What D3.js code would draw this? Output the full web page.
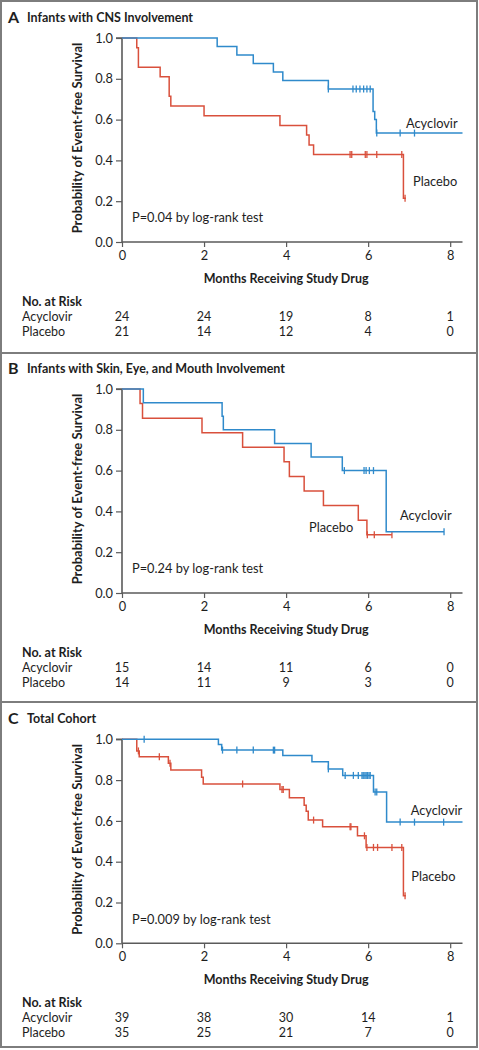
<!DOCTYPE html>
<html><head><meta charset="utf-8">
<script src="https://cdn.jsdelivr.net/npm/d3@7"></script>
<style>
html,body{margin:0;padding:0;background:#fff;}
svg{display:block;font-family:Lato,"Open Sans",sans-serif;}
</style></head>
<body>
<svg id="chart" width="479" height="1050"></svg>
<script>
// ---------- data ----------
const xTicks = [0, 2, 4, 6, 8];
const yTicks = [0, 0.2, 0.4, 0.6, 0.8, 1.0];
const groups = ["Acyclovir", "Placebo"];

const panelLetters = ["A", "B", "C"];
const panelTitles = ["Infants with CNS Involvement", "Infants with Skin, Eye, and Mouth Involvement", "Total Cohort"];
const pValueTexts = ["P=0.04 by log-rank test", "P=0.24 by log-rank test", "P=0.009 by log-rank test"];

// Panel A
const aAcycTimes = [2.32, 2.8, 3.2, 3.69, 3.92, 5.03, 6.12, 6.16, 6.2];
const aAcycSurv  = [0.958, 0.917, 0.875, 0.833, 0.792, 0.75, 0.64, 0.60, 0.534];
const aAcycEnd = 8.3;
const aAcycCensor = [5.03, 5.63, 5.71, 5.8, 5.89, 5.97, 6.05, 6.21, 6.78, 7.13];
const aPlacTimes = [0.36, 0.4, 0.93, 1.15, 1.19, 2.0, 3.85, 4.5, 4.56, 4.67, 6.86];
const aPlacSurv  = [0.952, 0.857, 0.81, 0.714, 0.667, 0.619, 0.571, 0.524, 0.476, 0.429, 0.214];
const aPlacEnd = 6.92;
const aPlacCensor = [5.56, 5.6, 5.93, 5.97, 6.21, 6.82, 6.9];
const aRiskAcyc = [24, 24, 19, 8, 1];
const aRiskPlac = [21, 14, 12, 4, 0];

// Panel B
const bAcycTimes = [0.52, 2.44, 2.47, 3.72, 4.61, 5.37, 6.44];
const bAcycSurv  = [0.933, 0.867, 0.8, 0.733, 0.667, 0.6, 0.3];
const bAcycEnd = 7.85;
const bAcycCensor = [5.42, 5.9, 5.95, 6.03, 6.13, 7.85];
const bPlacTimes = [0.44, 0.5, 1.95, 2.94, 3.95, 4.08, 4.44, 4.91, 5.76, 5.97];
const bPlacSurv  = [0.929, 0.857, 0.786, 0.714, 0.643, 0.571, 0.5, 0.429, 0.357, 0.286];
const bPlacEnd = 6.58;
const bPlacCensor = [5.98, 6.15, 6.58];
const bRiskAcyc = [15, 14, 11, 6, 0];
const bRiskPlac = [14, 11, 9, 3, 0];

// Panel C
const cAcycTimes = [2.35, 2.43, 3.92, 4.63, 5.03, 5.38, 6.13, 6.45];
const cAcycSurv  = [0.974, 0.947, 0.92, 0.89, 0.855, 0.823, 0.742, 0.594];
const cAcycEnd = 8.3;
const cAcycCensor = [0.54, 2.45, 2.8, 3.2, 3.69, 3.72, 5.03, 5.44, 5.64, 5.76, 5.85, 5.88, 5.92, 5.95, 5.98, 6.02, 6.05, 6.17, 6.21, 6.78, 7.13, 7.84];
const cPlacTimes = [0.36, 0.42, 1.13, 1.19, 1.94, 1.98, 3.85, 4.08, 4.44, 4.49, 4.54, 4.89, 5.74, 5.95, 6.86];
const cPlacSurv  = [0.943, 0.914, 0.882, 0.85, 0.814, 0.781, 0.754, 0.713, 0.677, 0.647, 0.604, 0.571, 0.527, 0.47, 0.233];
const cPlacEnd = 6.92;
const cPlacCensor = [0.4, 0.91, 1.17, 2.94, 3.9, 3.93, 4.67, 5.56, 5.58, 5.91, 5.97, 6.13, 6.23, 6.58, 6.82, 6.9];
const cRiskAcyc = [39, 38, 30, 14, 1];
const cRiskPlac = [35, 25, 21, 7, 0];

// ---------- layout / style ----------
const COL_ACYC = "#2f8acb";
const COL_PLAC = "#d9503c";
const AXIS_COL = "#5a5a5a";
const TEXT_COL = "#1e1e1e";

const panels = [
  {top: 38,    acyc: [aAcycTimes, aAcycSurv, aAcycEnd, aAcycCensor], plac: [aPlacTimes, aPlacSurv, aPlacEnd, aPlacCensor], risk: [aRiskAcyc, aRiskPlac],
   acycLbl: [406, 85], placLbl: [413, 143.7]},
  {top: 389,   acyc: [bAcycTimes, bAcycSurv, bAcycEnd, bAcycCensor], plac: [bPlacTimes, bPlacSurv, bPlacEnd, bPlacCensor], risk: [bRiskAcyc, bRiskPlac],
   acycLbl: [400, 126], placLbl: [309, 138.7]},
  {top: 739.3, acyc: [cAcycTimes, cAcycSurv, cAcycEnd, cAcycCensor], plac: [cPlacTimes, cPlacSurv, cPlacEnd, cPlacCensor], risk: [cRiskAcyc, cRiskPlac],
   acycLbl: [410.7, 70.7], placLbl: [411.3, 137.4]}
];

const svg = d3.select("#chart");

// frame
svg.append("rect").attr("x", 1).attr("y", 1).attr("width", 476).attr("height", 1046)
  .attr("fill", "none").attr("stroke", "#7d7d7d").attr("stroke-width", 2);
[353, 702].forEach(y => svg.append("line").attr("x1", 1).attr("x2", 477).attr("y1", y).attr("y2", y)
  .attr("stroke", "#7d7d7d").attr("stroke-width", 2));

const x = d3.scaleLinear().domain([0, 8.3]).range([122, 462.5]);
const PH = 204;

function survAt(times, surv, t) {
  let s = 1;
  for (let i = 0; i < times.length; i++) if (times[i] <= t + 1e-9) s = surv[i];
  return s;
}

panels.forEach((p, i) => {
  const top = p.top;
  const y = d3.scaleLinear().domain([0, 1]).range([top + PH, top]);
  const g = svg.append("g");

  // title
  g.append("text").attr("x", 8).attr("y", top - 21).attr("dy", "0.36em")
    .attr("font-size", 16).attr("font-weight", 700).attr("fill", TEXT_COL).text(panelLetters[i]);
  g.append("text").attr("x", 27).attr("y", top - 21).attr("dy", "0.36em")
    .attr("font-size", 12.5).attr("font-weight", 700).attr("fill", TEXT_COL).text(panelTitles[i]);

  // axes
  const yAxis = d3.axisLeft(y).tickValues(yTicks).tickFormat(d3.format(".1f")).tickSize(6).tickPadding(3);
  const ya = g.append("g").attr("transform", `translate(${x(0)},0)`).call(yAxis);
  const xAxis = d3.axisBottom(x).tickValues(xTicks).tickSize(5).tickPadding(4);
  const xa = g.append("g").attr("transform", `translate(0,${top + PH})`).call(xAxis);
  [ya, xa].forEach(a => {
    a.select(".domain").attr("stroke", AXIS_COL).attr("stroke-width", 1.6);
    a.selectAll(".tick line").attr("stroke", AXIS_COL).attr("stroke-width", 1.2);
    a.selectAll(".tick text").attr("fill", TEXT_COL).attr("font-size", 12.8).attr("font-family", "Lato, sans-serif");
  });
  ya.select(".domain").attr("d", `M-6,${top}H0V${top + PH}`);
  xa.select(".domain").attr("d", `M${x(0)},0H${x(8.3)}`);

  // y label
  g.append("text").attr("transform", `translate(77,${top + 100}) rotate(-90)`).attr("dy", "0.36em")
    .attr("text-anchor", "middle").attr("font-size", 13).attr("font-weight", 700).attr("fill", TEXT_COL)
    .text("Probability of Event-free Survival");

  // curves
  const line = d3.line().x(d => x(d[0])).y(d => y(d[1])).curve(d3.curveStepAfter);
  [[p.plac, COL_PLAC], [p.acyc, COL_ACYC]].forEach(([ser, col]) => {
    const [times, surv, end, cens] = ser;
    const pts = [[0, 1]].concat(times.map((t, k) => [t, surv[k]]), [[end, surv[surv.length - 1]]]);
    g.append("path").attr("d", line(pts)).attr("fill", "none").attr("stroke", col).attr("stroke-width", 1.5);
    g.selectAll(null).data(cens).enter().append("line")
      .attr("x1", d => x(d)).attr("x2", d => x(d))
      .attr("y1", d => y(survAt(times, surv, d)) - 3.5).attr("y2", d => y(survAt(times, surv, d)) + 3.5)
      .attr("stroke", col).attr("stroke-width", 1.3);
  });

  // curve labels
  g.append("text").attr("x", p.acycLbl[0]).attr("y", top + p.acycLbl[1]).attr("dy", "0.36em")
    .attr("font-size", 12.8).attr("fill", TEXT_COL).text(groups[0]);
  g.append("text").attr("x", p.placLbl[0]).attr("y", top + p.placLbl[1]).attr("dy", "0.36em")
    .attr("font-size", 12.8).attr("fill", TEXT_COL).text(groups[1]);
  g.append("text").attr("x", 132).attr("y", top + 179.7).attr("dy", "0.36em")
    .attr("font-size", 12.8).attr("fill", TEXT_COL).text(pValueTexts[i]);

  // x label
  g.append("text").attr("x", x(4)).attr("y", top + 240).attr("dy", "0.36em").attr("text-anchor", "middle")
    .attr("font-size", 12.5).attr("font-weight", 700).attr("fill", TEXT_COL).text("Months Receiving Study Drug");

  // risk table
  g.append("text").attr("x", 22).attr("y", top + 263.3).attr("dy", "0.36em")
    .attr("font-size", 12.5).attr("font-weight", 700).attr("fill", TEXT_COL).text("No. at Risk");
  [[p.risk[0], 278.5], [p.risk[1], 293]].forEach(([vals, off], r) => {
    g.append("text").attr("x", 22).attr("y", top + off).attr("dy", "0.36em")
      .attr("font-size", 12.5).attr("fill", TEXT_COL).text(groups[r]);
    g.selectAll(null).data(vals).enter().append("text")
      .attr("x", (d, k) => x(xTicks[k])).attr("y", top + off).attr("dy", "0.36em").attr("text-anchor", "middle")
      .attr("font-size", 12.5).attr("fill", TEXT_COL).text(d => d);
  });
});
</script>
</body></html>
